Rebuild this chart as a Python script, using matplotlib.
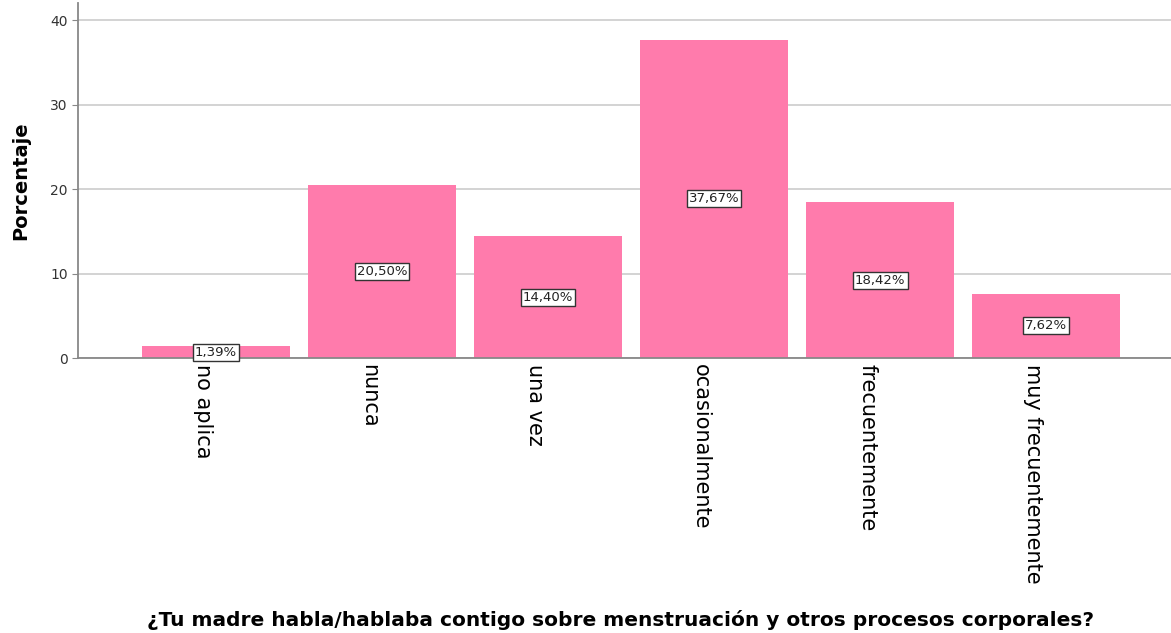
import numpy as np
import matplotlib.pyplot as plt

categorias = ['no aplica', 'nunca', 'una vez', 'ocasionalmente',
              'frecuentemente', 'muy frecuentemente']
porcentajes = [1.39, 20.50, 14.40, 37.67, 18.42, 7.62]
etiquetas = ['1,39%', '20,50%', '14,40%', '37,67%', '18,42%', '7,62%']

fig = plt.figure(figsize=(11.71, 6.33), dpi=100)
ax = fig.add_axes([0.0666, 0.4344, 0.9334, 0.5606])

x = np.arange(len(categorias))
ax.bar(x, porcentajes, width=0.89, color='#FF7BAC', zorder=2)

for xi, v, t in zip(x, porcentajes, etiquetas):
    ax.text(xi, v / 2, t, ha='center', va='center', fontsize=9.5,
            color='#222222', zorder=3,
            bbox=dict(boxstyle='square,pad=0.15', fc='white', ec='#333333', lw=1.0))

ax.set_xlim(-0.83, 5.75)
ax.set_ylim(0, 42)
ax.set_yticks([0, 10, 20, 30, 40])
ax.yaxis.grid(True, color='#d0d0d0', lw=1.3, zorder=0)
ax.set_axisbelow(True)

ax.set_xticks(x - 0.08)
ax.set_xticklabels(categorias, rotation=-90, fontsize=15, va='top', ha='center')
ax.tick_params(axis='x', length=0, pad=4)
ax.tick_params(axis='y', length=4, color='#888888', labelsize=10, labelcolor='#333333')

for s in ['top', 'right']:
    ax.spines[s].set_visible(False)
ax.spines['left'].set_color('#888888')
ax.spines['bottom'].set_color('#888888')
ax.spines['left'].set_linewidth(1.3)
ax.spines['bottom'].set_linewidth(1.3)

ax.set_ylabel('Porcentaje', fontsize=14, fontweight='bold', labelpad=14)
fig.text(0.53, 0.02, '¿Tu madre habla/hablaba contigo sobre menstruación y otros procesos corporales?',
         ha='center', va='center', fontsize=14.5, fontweight='bold')

fig.savefig('out.png', dpi=100)
